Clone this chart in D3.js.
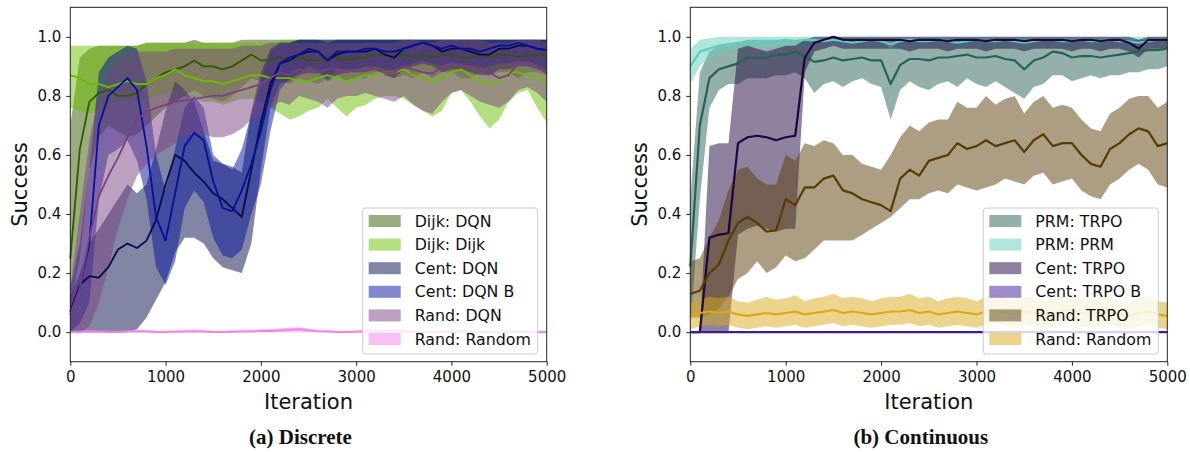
<!DOCTYPE html>
<html>
<head>
<meta charset="utf-8">
<script src="https://cdn.jsdelivr.net/npm/d3@7"></script>
<style>
  body { margin: 0; background: #fff; }
  svg text { font-family: "DejaVu Sans", sans-serif; fill: #111; }
</style>
</head>
<body>
<svg id="chart" width="1190" height="452"></svg>
<script>
// iterations shared by every curve
var iterations = [0,100,200,300,400,500,600,700,800,900,
  1000,1100,1200,1300,1400,1500,1600,1700,1800,1900,
  2000,2100,2200,2300,2400,2500,2600,2700,2800,2900,
  3000,3100,3200,3300,3400,3500,3600,3700,3800,3900,
  4000,4100,4200,4300,4400,4500,4600,4700,4800,4900,5000];

var xTicks = [0, 1000, 2000, 3000, 4000, 5000];
var yTicks = [0, 0.2, 0.4, 0.6, 0.8, 1.0];

// ---- (a) Discrete ----
var discreteLabels = ["Dijk: DQN", "Dijk: Dijk", "Cent: DQN", "Cent: DQN B", "Rand: DQN", "Rand: Random"];

var dijkDqnMean = [0.25,0.62,0.78,0.81,0.82,0.80,0.80,0.81,0.84,0.86,
  0.88,0.89,0.90,0.92,0.90,0.90,0.89,0.90,0.92,0.94,
  0.92,0.92,0.93,0.92,0.93,0.92,0.92,0.93,0.93,0.92,
  0.93,0.93,0.94,0.94,0.93,0.94,0.93,0.94,0.93,0.94,
  0.94,0.93,0.93,0.94,0.93,0.94,0.94,0.93,0.94,0.94,0.94];
var dijkDqnLo = [0.08,0.25,0.55,0.66,0.70,0.68,0.66,0.67,0.70,0.73,
  0.76,0.78,0.80,0.82,0.80,0.79,0.78,0.80,0.83,0.86,
  0.85,0.84,0.85,0.84,0.86,0.85,0.84,0.86,0.87,0.85,
  0.86,0.86,0.88,0.88,0.86,0.87,0.86,0.88,0.86,0.88,
  0.88,0.86,0.86,0.88,0.87,0.88,0.88,0.86,0.88,0.88,0.87];
var dijkDqnHi = [0.70,0.93,0.96,0.97,0.97,0.97,0.97,0.97,0.98,0.98,
  0.98,0.98,0.98,0.99,0.98,0.98,0.98,0.98,0.99,0.99,
  0.99,0.99,0.99,0.99,0.99,0.99,0.99,0.99,0.99,0.99,
  0.99,0.99,0.99,0.99,0.99,0.99,0.99,0.99,0.99,0.99,
  0.99,0.99,0.99,0.99,0.99,0.99,0.99,0.99,0.99,0.99,0.99];

var dijkDijkMean = [0.87,0.86,0.84,0.84,0.83,0.84,0.85,0.84,0.84,0.86,
  0.87,0.89,0.87,0.86,0.85,0.85,0.84,0.85,0.86,0.87,
  0.87,0.86,0.86,0.86,0.85,0.85,0.86,0.87,0.86,0.85,
  0.86,0.87,0.87,0.88,0.88,0.89,0.87,0.86,0.85,0.86,
  0.88,0.89,0.87,0.85,0.84,0.85,0.88,0.88,0.87,0.86,0.85];
var dijkDijkLo = [0.76,0.75,0.74,0.76,0.76,0.78,0.78,0.79,0.79,0.80,
  0.81,0.82,0.80,0.79,0.78,0.78,0.77,0.78,0.79,0.79,
  0.78,0.76,0.74,0.72,0.73,0.75,0.76,0.79,0.76,0.73,
  0.76,0.77,0.79,0.80,0.80,0.79,0.77,0.75,0.73,0.75,
  0.81,0.82,0.78,0.73,0.69,0.72,0.78,0.81,0.82,0.76,0.71];
var dijkDijkHi = [0.97,0.97,0.97,0.97,0.97,0.97,0.97,0.97,0.98,0.98,
  0.98,0.98,0.98,0.98,0.98,0.98,0.98,0.98,0.98,0.98,
  0.98,0.98,0.99,0.99,0.99,0.99,0.99,0.99,0.99,0.99,
  0.99,0.99,0.99,0.99,0.99,0.99,0.99,0.99,0.99,0.99,
  0.99,0.99,0.99,0.99,0.99,0.99,0.99,0.99,0.99,0.99,0.99];

var centDqnMean = [0.07,0.16,0.19,0.185,0.22,0.28,0.30,0.285,0.31,0.38,
  0.50,0.60,0.58,0.54,0.51,0.47,0.45,0.42,0.39,0.55,
  0.71,0.84,0.91,0.92,0.94,0.95,0.95,0.92,0.94,0.95,
  0.95,0.95,0.96,0.94,0.93,0.96,0.97,0.98,0.97,0.95,
  0.96,0.96,0.95,0.94,0.94,0.96,0.96,0.97,0.97,0.96,0.955];
var centDqnLo = [0.00,0.00,0.00,0.00,0.00,0.00,0.00,0.01,0.05,0.11,
  0.17,0.27,0.32,0.32,0.30,0.25,0.22,0.21,0.20,0.30,
  0.55,0.76,0.84,0.85,0.87,0.88,0.88,0.85,0.87,0.88,
  0.88,0.88,0.89,0.87,0.86,0.89,0.90,0.91,0.90,0.88,
  0.89,0.89,0.88,0.87,0.87,0.89,0.89,0.90,0.90,0.89,0.88];
var centDqnHi = [0.12,0.20,0.30,0.35,0.40,0.45,0.50,0.47,0.50,0.62,
  0.75,0.85,0.82,0.78,0.68,0.58,0.57,0.56,0.54,0.75,
  0.88,0.96,0.98,0.98,0.99,0.99,0.99,0.98,0.99,0.99,
  0.99,0.99,0.99,0.99,0.99,0.99,0.99,0.99,0.99,0.99,
  0.99,0.99,0.99,0.99,0.99,0.99,0.99,0.99,0.99,0.99,0.99];

var centDqnBMean = [0.07,0.15,0.30,0.70,0.80,0.83,0.86,0.82,0.63,0.39,
  0.31,0.47,0.63,0.675,0.65,0.51,0.42,0.41,0.48,0.57,
  0.68,0.82,0.91,0.93,0.94,0.96,0.95,0.92,0.95,0.95,
  0.95,0.96,0.96,0.95,0.95,0.96,0.97,0.98,0.97,0.96,
  0.97,0.96,0.96,0.95,0.96,0.97,0.97,0.98,0.97,0.96,0.955];
var centDqnBLo = [0.00,0.03,0.10,0.45,0.60,0.62,0.65,0.58,0.45,0.22,
  0.16,0.24,0.42,0.48,0.44,0.32,0.26,0.25,0.28,0.40,
  0.50,0.68,0.82,0.86,0.88,0.90,0.89,0.86,0.89,0.89,
  0.89,0.90,0.90,0.89,0.89,0.90,0.91,0.92,0.91,0.90,
  0.91,0.90,0.90,0.89,0.90,0.91,0.91,0.92,0.91,0.90,0.89];
var centDqnBHi = [0.15,0.30,0.55,0.88,0.93,0.95,0.97,0.96,0.85,0.60,
  0.48,0.62,0.76,0.80,0.76,0.60,0.57,0.55,0.62,0.74,
  0.85,0.95,0.98,0.98,0.99,0.99,0.99,0.99,0.99,0.99,
  0.99,0.99,0.99,0.99,0.99,0.99,0.99,0.99,0.99,0.99,
  0.99,0.99,0.99,0.99,0.99,0.99,0.99,0.99,0.99,0.99,0.99];

var randDqnMean = [0.06,0.15,0.32,0.46,0.53,0.59,0.66,0.72,0.745,0.76,
  0.77,0.78,0.785,0.79,0.795,0.80,0.80,0.81,0.82,0.83,
  0.84,0.86,0.88,0.87,0.89,0.88,0.88,0.89,0.89,0.88,
  0.89,0.89,0.89,0.88,0.88,0.90,0.89,0.88,0.875,0.90,
  0.91,0.905,0.90,0.895,0.88,0.86,0.87,0.91,0.915,0.90,0.875];
var randDqnLo = [0.00,0.00,0.02,0.10,0.22,0.35,0.45,0.53,0.57,0.60,
  0.62,0.64,0.66,0.67,0.67,0.66,0.66,0.67,0.69,0.72,
  0.74,0.76,0.78,0.77,0.80,0.79,0.78,0.76,0.79,0.80,
  0.80,0.81,0.80,0.79,0.78,0.80,0.77,0.75,0.74,0.78,
  0.81,0.82,0.80,0.78,0.77,0.76,0.78,0.82,0.83,0.81,0.78];
var randDqnHi = [0.15,0.40,0.65,0.80,0.88,0.92,0.94,0.95,0.95,0.95,
  0.95,0.96,0.96,0.96,0.96,0.96,0.96,0.96,0.97,0.97,
  0.97,0.98,0.98,0.98,0.98,0.98,0.98,0.98,0.98,0.98,
  0.98,0.98,0.98,0.98,0.98,0.99,0.99,0.98,0.98,0.99,
  0.99,0.99,0.99,0.99,0.98,0.98,0.98,0.99,0.99,0.99,0.98];

var randRandomMean = [0.000,0.000,0.002,0.001,0.000,0.000,0.002,0.003,0.002,0.000,
  0.000,0.001,0.002,0.003,0.002,0.000,0.000,0.001,0.002,0.002,
  0.004,0.004,0.006,0.008,0.010,0.006,0.003,0.002,0.000,0.000,
  0.001,0.002,0.002,0.003,0.004,0.003,0.001,0.000,0.000,0.001,
  0.002,0.003,0.002,0.000,0.000,0.000,0.001,0.002,0.001,0.000,0.000];
var randRandomLo = [0,0,0,0,0,0,0,0,0,0,
  0,0,0,0,0,0,0,0,0,0,
  0,0,0,0,0,0,0,0,0,0,
  0,0,0,0,0,0,0,0,0,0,
  0,0,0,0,0,0,0,0,0,0,0];
var randRandomHi = [0.005,0.006,0.008,0.007,0.006,0.005,0.008,0.009,0.008,0.006,
  0.005,0.007,0.008,0.009,0.008,0.006,0.005,0.007,0.008,0.008,
  0.010,0.011,0.013,0.015,0.017,0.012,0.009,0.008,0.006,0.005,
  0.007,0.008,0.008,0.009,0.010,0.009,0.007,0.006,0.005,0.007,
  0.008,0.009,0.008,0.006,0.005,0.005,0.007,0.008,0.007,0.006,0.005];

// ---- (b) Continuous ----
var continuousLabels = ["PRM: TRPO", "PRM: PRM", "Cent: TRPO", "Cent: TRPO B", "Rand: TRPO", "Rand: Random"];

var prmTrpoMean = [0.22,0.70,0.86,0.89,0.90,0.91,0.93,0.93,0.93,0.94,
  0.94,0.95,0.935,0.915,0.92,0.93,0.92,0.925,0.93,0.92,
  0.92,0.84,0.905,0.925,0.925,0.92,0.93,0.93,0.935,0.94,
  0.93,0.93,0.935,0.925,0.92,0.89,0.92,0.93,0.95,0.945,
  0.93,0.935,0.935,0.93,0.935,0.94,0.945,0.95,0.955,0.955,0.96];
var prmTrpoLo = [0.02,0.45,0.76,0.82,0.84,0.84,0.86,0.86,0.86,0.87,
  0.87,0.88,0.86,0.81,0.84,0.85,0.83,0.85,0.86,0.84,
  0.83,0.72,0.82,0.85,0.83,0.82,0.84,0.85,0.83,0.86,
  0.84,0.83,0.85,0.83,0.81,0.79,0.83,0.84,0.87,0.87,
  0.85,0.86,0.87,0.86,0.87,0.87,0.88,0.88,0.89,0.89,0.90];
var prmTrpoHi = [0.45,0.88,0.95,0.97,0.97,0.98,0.99,0.99,0.99,0.99,
  0.99,0.99,0.99,0.98,0.99,0.99,0.99,0.99,0.99,0.99,
  0.99,0.96,0.99,0.99,0.99,0.99,0.99,0.99,0.99,0.99,
  0.99,0.99,0.99,0.99,0.99,0.98,0.99,0.99,0.99,0.99,
  0.99,0.99,0.99,0.99,0.99,0.99,0.99,0.99,0.99,0.99,0.99];

var prmPrmMean = [0.90,0.95,0.96,0.97,0.975,0.98,0.98,0.985,0.985,0.985,
  0.99,0.985,0.99,0.99,0.985,0.99,0.985,0.98,0.985,0.99,
  0.985,0.975,0.985,0.99,0.985,0.985,0.99,0.985,0.98,0.985,
  0.99,0.985,0.985,0.99,0.985,0.98,0.985,0.99,0.99,0.985,
  0.985,0.99,0.985,0.985,0.99,0.985,0.985,0.98,0.985,0.99,0.99];
var prmPrmLo = [0.84,0.90,0.93,0.94,0.95,0.96,0.96,0.965,0.965,0.965,
  0.97,0.965,0.97,0.97,0.965,0.97,0.965,0.96,0.965,0.97,
  0.965,0.95,0.965,0.97,0.965,0.965,0.97,0.965,0.96,0.965,
  0.97,0.965,0.965,0.97,0.965,0.96,0.965,0.97,0.97,0.965,
  0.965,0.97,0.965,0.965,0.97,0.965,0.965,0.96,0.965,0.97,0.97];
var prmPrmHi = [0.96,0.99,0.995,1.0,1.0,1.0,1.0,1.0,1.0,1.0,
  1.0,1.0,1.0,1.0,1.0,1.0,1.0,1.0,1.0,1.0,
  1.0,1.0,1.0,1.0,1.0,1.0,1.0,1.0,1.0,1.0,
  1.0,1.0,1.0,1.0,1.0,1.0,1.0,1.0,1.0,1.0,
  1.0,1.0,1.0,1.0,1.0,1.0,1.0,1.0,1.0,1.0,1.0];

var centTrpoMean = [0.00,0.00,0.32,0.33,0.335,0.64,0.66,0.665,0.66,0.65,
  0.66,0.665,0.93,0.98,0.99,1.00,0.99,0.99,0.99,0.99,
  0.99,0.99,0.99,0.985,0.99,0.99,0.99,0.985,0.99,0.99,
  0.99,0.985,0.99,0.99,0.99,0.985,0.99,0.99,0.99,0.99,
  0.985,0.99,0.99,0.985,0.99,0.99,0.98,0.96,0.99,0.99,0.99];
var centTrpoLo = [0.00,0.00,0.00,0.00,0.00,0.33,0.35,0.36,0.35,0.34,
  0.35,0.35,0.88,0.95,0.96,0.97,0.96,0.96,0.96,0.96,
  0.96,0.96,0.96,0.95,0.96,0.96,0.96,0.95,0.96,0.96,
  0.96,0.95,0.96,0.96,0.96,0.95,0.96,0.96,0.96,0.96,
  0.95,0.96,0.96,0.95,0.96,0.96,0.95,0.93,0.96,0.96,0.96];
var centTrpoHi = [0.00,0.00,0.63,0.64,0.64,0.96,0.97,0.96,0.95,0.96,
  0.97,0.97,0.99,1.00,1.00,1.00,1.00,1.00,1.00,1.00,
  1.00,1.00,1.00,1.00,1.00,1.00,1.00,1.00,1.00,1.00,
  1.00,1.00,1.00,1.00,1.00,1.00,1.00,1.00,1.00,1.00,
  1.00,1.00,1.00,1.00,1.00,1.00,1.00,0.99,1.00,1.00,1.00];

var centTrpoBMean = [0,0,0,0,0,0,0,0,0,0,
  0,0,0,0,0,0,0,0,0,0,
  0,0,0,0,0,0,0,0,0,0,
  0,0,0,0,0,0,0,0,0,0,
  0,0,0,0,0,0,0,0,0,0,0];
var centTrpoBLo = centTrpoBMean;
var centTrpoBHi = centTrpoBMean;

var randTrpoMean = [0.13,0.14,0.20,0.23,0.31,0.37,0.39,0.37,0.34,0.345,
  0.45,0.43,0.49,0.49,0.52,0.53,0.48,0.47,0.45,0.44,
  0.43,0.41,0.52,0.55,0.53,0.58,0.59,0.60,0.64,0.62,
  0.63,0.65,0.63,0.64,0.65,0.61,0.65,0.67,0.63,0.64,
  0.64,0.60,0.57,0.56,0.62,0.64,0.67,0.69,0.68,0.63,0.64];
var randTrpoLo = [0.05,0.05,0.06,0.08,0.12,0.18,0.20,0.24,0.20,0.22,
  0.26,0.24,0.25,0.28,0.31,0.31,0.31,0.31,0.33,0.35,
  0.37,0.39,0.42,0.45,0.45,0.47,0.48,0.47,0.50,0.49,
  0.48,0.49,0.50,0.52,0.51,0.50,0.53,0.54,0.50,0.51,
  0.52,0.48,0.46,0.45,0.50,0.52,0.55,0.57,0.55,0.50,0.49];
var randTrpoHi = [0.24,0.25,0.32,0.38,0.48,0.55,0.56,0.52,0.50,0.50,
  0.60,0.58,0.64,0.63,0.65,0.64,0.60,0.60,0.57,0.56,
  0.55,0.60,0.66,0.70,0.68,0.71,0.72,0.72,0.78,0.76,
  0.76,0.80,0.77,0.79,0.80,0.74,0.78,0.80,0.76,0.77,
  0.76,0.72,0.69,0.68,0.74,0.76,0.79,0.80,0.80,0.76,0.78];

var randRandomCMean = [0.05,0.065,0.07,0.065,0.07,0.06,0.055,0.06,0.065,0.06,
  0.065,0.07,0.06,0.065,0.07,0.075,0.065,0.07,0.065,0.06,
  0.065,0.07,0.07,0.075,0.065,0.07,0.06,0.065,0.07,0.065,
  0.06,0.07,0.075,0.065,0.06,0.07,0.065,0.06,0.065,0.07,
  0.075,0.065,0.06,0.065,0.07,0.06,0.055,0.065,0.07,0.06,0.055];
var randRandomCLo = [0.01,0.02,0.025,0.02,0.025,0.015,0.01,0.015,0.02,0.015,
  0.02,0.025,0.015,0.02,0.025,0.03,0.02,0.025,0.02,0.015,
  0.02,0.025,0.025,0.03,0.02,0.025,0.015,0.02,0.025,0.02,
  0.015,0.025,0.03,0.02,0.015,0.025,0.02,0.015,0.02,0.025,
  0.03,0.02,0.015,0.02,0.025,0.015,0.01,0.02,0.025,0.015,0.01];
var randRandomCHi = [0.10,0.11,0.12,0.115,0.12,0.105,0.10,0.11,0.12,0.11,
  0.115,0.125,0.105,0.115,0.12,0.13,0.115,0.12,0.115,0.105,
  0.115,0.12,0.12,0.13,0.115,0.12,0.105,0.115,0.12,0.115,
  0.105,0.12,0.13,0.115,0.105,0.12,0.115,0.105,0.115,0.12,
  0.13,0.115,0.105,0.115,0.12,0.105,0.10,0.115,0.12,0.105,0.10];

var discreteColors = ["#355700", "#6bbd01", "#050d49", "#051199", "#794181", "#f181e9"];
var continuousColors = ["#296155", "#61cdb9", "#1d053d", "#411999", "#573d05", "#d9a919"];

function makeSeries(labels, colors, means, los, his) {
  return labels.map(function (name, k) {
    return { name: name, color: colors[k], mean: means[k], lo: los[k], hi: his[k] };
  });
}

var discreteSeries = makeSeries(discreteLabels, discreteColors,
  [dijkDqnMean, dijkDijkMean, centDqnMean, centDqnBMean, randDqnMean, randRandomMean],
  [dijkDqnLo, dijkDijkLo, centDqnLo, centDqnBLo, randDqnLo, randRandomLo],
  [dijkDqnHi, dijkDijkHi, centDqnHi, centDqnBHi, randDqnHi, randRandomHi]);

var continuousSeries = makeSeries(continuousLabels, continuousColors,
  [prmTrpoMean, prmPrmMean, centTrpoMean, centTrpoBMean, randTrpoMean, randRandomCMean],
  [prmTrpoLo, prmPrmLo, centTrpoLo, centTrpoBLo, randTrpoLo, randRandomCLo],
  [prmTrpoHi, prmPrmHi, centTrpoHi, centTrpoBHi, randTrpoHi, randRandomCHi]);

var svg = d3.select("#chart");
var plotTop = 7.3, plotBottom = 361.7;

function drawPanel(left, right, series, caption, lineWidth) {
  var x = d3.scaleLinear().domain([0, 5000]).range([left, right]);
  var y = d3.scaleLinear().domain([-0.1, 1.1]).range([plotBottom, plotTop]);
  var g = svg.append("g");

  // bands first (matplotlib puts fills under lines)
  series.forEach(function (s) {
    var area = d3.area()
      .x(function (d, i) { return x(iterations[i]); })
      .y0(function (d, i) { return y(s.lo[i]); })
      .y1(function (d, i) { return y(s.hi[i]); });
    g.append("path")
      .attr("d", area(s.mean))
      .attr("fill", s.color)
      .attr("fill-opacity", 0.5)
      .attr("stroke", "none");
  });

  series.forEach(function (s) {
    var line = d3.line()
      .x(function (d, i) { return x(iterations[i]); })
      .y(function (d) { return y(d); });
    g.append("path")
      .attr("d", line(s.mean))
      .attr("fill", "none")
      .attr("stroke", s.color)
      .attr("stroke-width", lineWidth)
      .attr("stroke-linejoin", "round");
  });

  // frame
  g.append("rect")
    .attr("x", left).attr("y", plotTop)
    .attr("width", right - left).attr("height", plotBottom - plotTop)
    .attr("fill", "none").attr("stroke", "#222").attr("stroke-width", 1);

  var xAxis = g.append("g")
    .attr("transform", "translate(0," + plotBottom + ")")
    .call(d3.axisBottom(x).tickValues(xTicks).tickFormat(d3.format("d")).tickSize(4).tickPadding(6));
  var yAxis = g.append("g")
    .attr("transform", "translate(" + left + ",0)")
    .call(d3.axisLeft(y).tickValues(yTicks).tickFormat(d3.format(".1f")).tickSize(4).tickPadding(5));
  [xAxis, yAxis].forEach(function (ax) {
    ax.select(".domain").remove();
    ax.selectAll("line").attr("stroke", "#222");
    ax.selectAll("text").attr("font-size", "15px").attr("font-family", "DejaVu Sans").attr("fill", "#111");
  });

  g.append("text")
    .attr("x", (left + right) / 2).attr("y", 409)
    .attr("text-anchor", "middle").attr("font-size", "21px")
    .text("Iteration");

  g.append("text")
    .attr("transform", "translate(" + (left - 43) + "," + ((plotTop + plotBottom) / 2) + ") rotate(-90)")
    .attr("text-anchor", "middle").attr("font-size", "21px")
    .text("Success");

  g.append("text")
    .attr("x", (left + right) / 2 - 8).attr("y", 444)
    .attr("text-anchor", "middle")
    .style("font-family", "'Liberation Serif', serif")
    .style("font-weight", "bold").style("font-size", "21px")
    .text(caption);

  // legend
  var legX = right - 184, legY = 208;
  var legend = g.append("g").attr("transform", "translate(" + legX + "," + legY + ")");
  legend.append("rect")
    .attr("width", 175).attr("height", 146).attr("rx", 3)
    .attr("fill", "#fff").attr("fill-opacity", 0.8)
    .attr("stroke", "#ccc").attr("stroke-width", 1);
  series.forEach(function (s, k) {
    var row = legend.append("g").attr("transform", "translate(0," + (13 + k * 23.6) + ")");
    row.append("rect")
      .attr("x", 6).attr("y", -6).attr("width", 32).attr("height", 12)
      .attr("fill", s.color).attr("fill-opacity", 0.5);
    row.append("text")
      .attr("x", 52).attr("y", 5.5)
      .attr("font-size", "15.8px")
      .text(s.name);
  });
}

drawPanel(70.3, 546.7, discreteSeries, "(a) Discrete", 1.8);
drawPanel(690.3, 1167.3, continuousSeries, "(b) Continuous", 2.2);
</script>
</body>
</html>
